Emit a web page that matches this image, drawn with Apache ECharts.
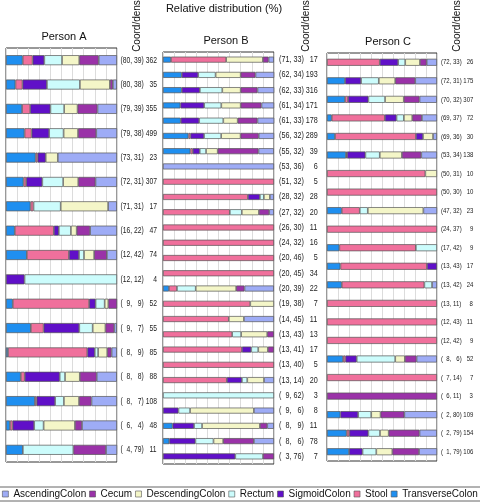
<!DOCTYPE html>
<html><head><meta charset="utf-8">
<script src="https://cdn.jsdelivr.net/npm/echarts@6/dist/echarts.min.js"></script>
<style>html,body{margin:0;padding:0;background:#fff}#c{width:480px;height:503px}</style>
</head><body><div id="c"></div>
<script>
// Series (stack order, left to right)
const seriesNames = ['TransverseColon','Stool','SigmoidColon','Rectum','DescendingColon','Cecum','AscendingColon'];
const legendOrder = ['AscendingColon','Cecum','DescendingColon','Rectum','SigmoidColon','Stool','TransverseColon'];
const colors = {TransverseColon:'#1f8ff0',Stool:'#f0709c',SigmoidColon:'#6010c8',Rectum:'#ccfcfc',DescendingColon:'#f4f6c8',Cecum:'#9a32a8',AscendingColon:'#9eacf6'};
const panelTitles = ['Person A','Person B','Person C'];

// Person A
const labelsA = ['(80, 39) 362','(80, 38) 35','(79, 39) 355','(79, 38) 499','(73, 31) 23','(72, 31) 307','(71, 31) 17','(16, 22) 47','(12, 42) 74','(12, 12) 4','(9, 9) 52','(9, 7) 55','(8, 9) 85','(8, 8) 88','(8, 7) 108','(6, 4) 48','(4, 79) 11'];
const transA = [15,8.5,14.5,16.7,26.7,15.8,22.1,7.9,18.8,0,6.1,22.4,1.8,13.3,26.1,3.6,15.2];
const stoolA = [9,6.4,7.3,6.4,1.8,2.4,2.7,35.2,37.9,0,68.8,11.5,71.5,3.6,1.5,2.4,0];
const sigA   = [10.5,22,18.2,15.8,7.3,14.5,0,4.5,9.1,16.7,5.8,32.1,6.7,31.5,16.7,19.4,0];
const rectA  = [16,29.7,12.4,13,0,18.8,24.5,10.9,4.5,83.3,8.2,12.1,3,4.8,7.9,8.5,45.5];
const descA  = [15.5,27,12.1,13,10.9,13.6,42.7,5.2,9.1,0,3.3,11.5,8.2,13.3,13.6,28.2,0];
const cecA   = [17.5,2.7,17.9,16.4,0,15.5,0,12.1,11.5,0,7.9,7.9,3.9,15.2,11.2,6.4,29.4];
const ascA   = [16.5,3.6,17.6,18.8,53.3,19.4,7.9,24.2,9.1,0,0,2.4,4.8,18.2,23,31.5,10];

// Person B
const labelsB = ['(71, 33) 17','(62, 34) 193','(62, 33) 316','(61, 34) 171','(61, 33) 178','(56, 32) 289','(55, 32) 39','(53, 36) 6','(51, 32) 5','(28, 32) 28','(27, 32) 20','(26, 30) 11','(24, 32) 16','(20, 46) 5','(20, 45) 34','(20, 39) 22','(19, 38) 7','(14, 45) 11','(13, 43) 13','(13, 41) 17','(13, 40) 5','(13, 14) 20','(9, 62) 3','(9, 6) 8','(8, 9) 11','(8, 6) 78','(3, 76) 7'];
const transB = [7.2,16.9,16.9,15.7,16,22.9,24.7,0,0,0,0,0,0,0,0,5.4,0,0,0,0,0,0,0,0,8.7,5.7,0];
const stoolB = [49.7,0,0,0,0,1.8,2.1,0,100,76.5,60.2,100,100,100,100,7.2,78.6,59.3,62.3,71.1,100,57.5,0,0,0,0,0];
const sigB   = [0,14.8,16.3,21.4,16.6,12.3,6.3,0,0,10.8,0,0,0,0,0,0,0,0,0,8.4,0,13.6,0,13.9,19.3,23.5,65.1];
const rectB  = [0,15.7,20.2,15.4,21.7,15.4,5.7,0,0,3.6,10.8,0,0,0,0,16.9,0,0,8.1,6.3,0,4.8,100,10.5,7.2,16.3,25];
const descB  = [33.1,22.6,16.6,17.5,13,17.5,10.5,0,0,5.4,15.4,0,0,0,0,36.4,21.4,13.6,23.5,8.7,0,15.1,0,57.5,52.1,8.7,0];
const cecB   = [5.1,13.3,15.1,18.7,17.8,16.3,36.7,0,0,0,9.3,0,0,0,0,7.5,0,0,6,5.4,0,0,0,0,6.6,27.7,9.9];
const ascB   = [4.8,16.9,15.1,11.4,15.1,13.9,13.9,100,0,3.6,4.2,0,0,0,0,26.5,0,27.1,0,0,0,9,0,18.1,6,18.1,0];

// Person C
const labelsC = ['(72, 33) 26','(72, 31) 175','(70, 32) 307','(69, 37) 72','(69, 36) 30','(53, 34) 138','(50, 31) 10','(50, 30) 10','(47, 32) 23','(24, 37) 9','(17, 42) 9','(13, 43) 17','(13, 42) 24','(13, 11) 8','(12, 43) 11','(12, 42) 9','(8, 6) 52','(7, 14) 7','(6, 11) 3','(2, 80) 109','(2, 79) 154','(1, 79) 106'];
const transC = [0,16.4,16.4,4.3,7.3,17.3,0,0,13.4,0,11.2,12.2,13.4,0,0,0,14.6,0,0,12.2,17.9,20.1];
const stoolC = [48,0,2.7,48.3,73.6,0.9,89.4,100,16.4,100,69.6,78.7,75.1,100,100,100,2.1,100,0,0,2.4,0];
const sigC   = [16.7,14.6,18.5,10.6,6.4,16.7,0,0,0,0,0,9.1,0,0,0,0,10.3,0,0,16.1,17.3,12.2];
const rectC  = [6.4,16.1,15.2,6.7,0,13.1,0,0,7.3,0,19.2,0,7,0,0,0,35,0,0,11.9,10.6,12.5];
const descC  = [13.4,14.9,17,7.6,9.1,20.1,10.6,0,50.5,0,0,0,0,0,0,0,8.8,0,0,8.5,7.9,14.6];
const cecC   = [6.1,18.2,14.3,8.8,0,17.6,0,0,0,0,0,0,0,0,0,0,10.6,0,100,21.6,28,24.3];
const ascC   = [9.4,19.8,15.8,13.7,3.6,14.3,0,0,12.5,0,0,0,4.5,0,0,0,18.5,0,0,29.8,15.8,16.4];

const panels = [
  {labels:labelsA, data:[transA,stoolA,sigA,rectA,descA,cecA,ascA]},
  {labels:labelsB, data:[transB,stoolB,sigB,rectB,descB,cecB,ascB]},
  {labels:labelsC, data:[transC,stoolC,sigC,rectC,descC,cecC,ascC]}
];

// tabular alignment: one missing digit = two spaces (Arial metrics)
function padNum(s, n){ let out=''; for(let k=s.length;k<n;k++) out+='  '; return out+s; }
function fmtLabel(l){
  const m = l.match(/\((\d+),\s*(\d+)\)\s*(\d+)/);
  return '(' + padNum(m[1],2) + ', ' + padNum(m[2],2) + ') ' + padNum(m[3],3);
}

// layout
const grids = [
  {left:6, top:48, width:111, height:414, bar:10, titleX:64, titleY:37, cdX:137, lblX:120.5, lblSize:9, lblScale:0.75},
  {left:163, top:52, width:111, height:412, bar:6, titleX:226, titleY:41, cdX:306, lblX:279, lblSize:9, lblScale:0.8},
  {left:327, top:53, width:110, height:408, bar:7, titleX:388, titleY:42, cdX:457, lblX:441, lblSize:8, lblScale:0.75}
];
const textFont = "'Liberation Sans',Arial,sans-serif";

const option = {
  animation:false,
  backgroundColor:'#fff',
  grid: grids.map(g=>({left:g.left, top:g.top, width:g.width, height:g.height, show:true, borderColor:'#333', borderWidth:1, containLabel:false})),
  xAxis: grids.map((g,i)=>({type:'value', gridIndex:i, min:0, max:100, interval:10,
    axisLabel:{show:false}, axisTick:{show:false}, axisLine:{show:false},
    splitLine:{show:true, lineStyle:{color:'#dcdcdc', width:1}}})),
  yAxis: grids.map((g,i)=>({type:'category', gridIndex:i, inverse:true, position:'right',
    data: panels[i].labels, axisTick:{show:false}, axisLine:{show:false},
    splitLine:{show:false}, axisLabel:{show:false}})),
  legend:{
    data: legendOrder, left:'center', top:487, width:480,
    orient:'horizontal', itemWidth:6, itemHeight:6, itemGap:3,
    padding:[2,3], borderColor:'#666', borderWidth:1, icon:'rect',
    textStyle:{fontSize:10, color:'#111', fontFamily:textFont},
    itemStyle:{borderColor:'#555', borderWidth:0.6}
  },
  graphic: [
    {type:'text', x:224, y:9, style:{text:'Relative distribution (%)', font:"11px 'Liberation Sans', Arial, sans-serif", fill:'#111', textAlign:'center', textVerticalAlign:'middle'}}
  ].concat(grids.map((g,i)=>({type:'text', x:g.titleX, y:g.titleY,
      style:{text:panelTitles[i], font:"11px 'Liberation Sans', Arial, sans-serif", fill:'#111', textAlign:'center', textVerticalAlign:'middle'}})))
   .concat(grids.map(g=>({type:'text', x:g.cdX, y:26, rotation:Math.PI/2,
      style:{text:'Coord/dens', font:"10px 'Liberation Sans', Arial, sans-serif", fill:'#111', textAlign:'center', textVerticalAlign:'middle'}}))),
  series: []
};
panels.forEach((p,pi)=>{
  seriesNames.forEach((name,si)=>{
    option.series.push({
      name:name, type:'bar', stack:'s'+pi, xAxisIndex:pi, yAxisIndex:pi,
      barWidth:grids[pi].bar,
      itemStyle:{color:colors[name], borderColor:'#555', borderWidth:0.7},
      data: p.data[si].map(v=> v===0 ? '-' : v)
    });
  });
});
const chart = echarts.init(document.getElementById('c'), null, {renderer:'canvas'});
chart.setOption(option);

// Row labels (Coord/dens), positioned through each panel's category axis
const labelGraphics = [];
panels.forEach((p,pi)=>{
  const g = grids[pi];
  p.labels.forEach(l=>{
    const y = chart.convertToPixel({yAxisIndex:pi}, l);
    labelGraphics.push({type:'text', x:g.lblX, y:y, scaleX:g.lblScale, scaleY:1,
      style:{text:fmtLabel(l), font:g.lblSize+"px 'Liberation Sans', Arial, sans-serif", fill:'#222', textAlign:'left', textVerticalAlign:'middle'}});
  });
});
option.graphic = option.graphic.concat(labelGraphics);
chart.setOption({graphic: option.graphic});
</script></body></html>
